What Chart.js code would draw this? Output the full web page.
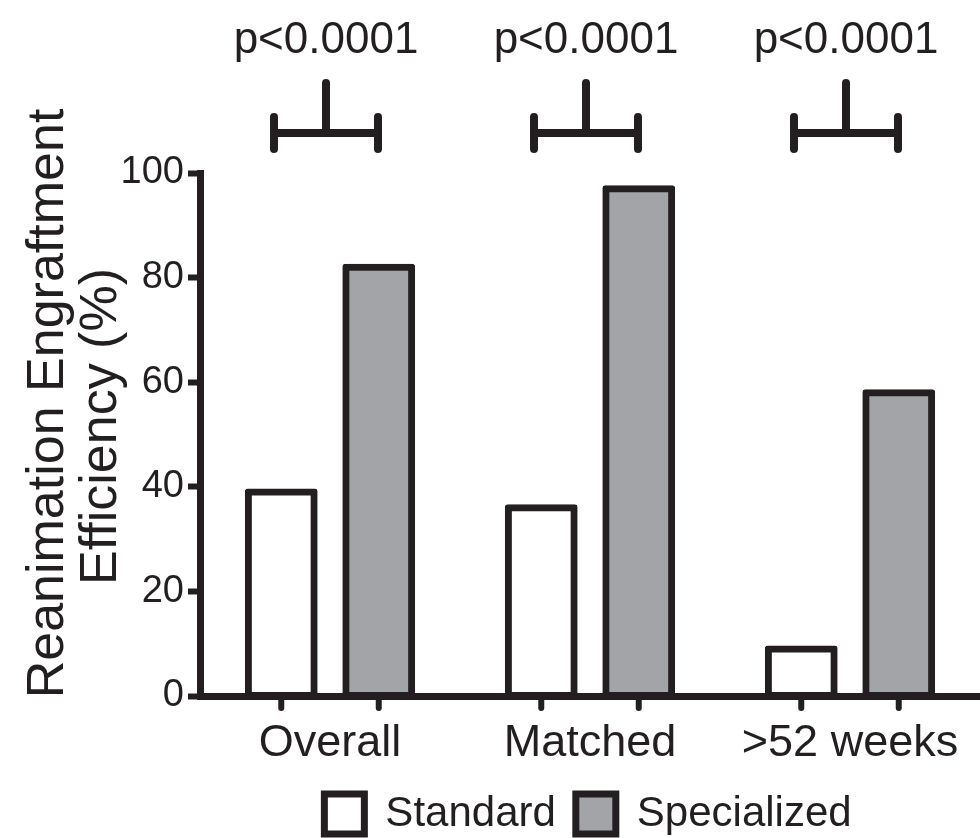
<!DOCTYPE html>
<html>
<head>
<meta charset="utf-8">
<script src="https://cdn.jsdelivr.net/npm/chart.js@4.4.1/dist/chart.umd.min.js"></script>
<style>
  html, body { margin: 0; padding: 0; background: #fff; }
  #wrap { width: 980px; height: 838px; }
</style>
</head>
<body>
<div id="wrap"><canvas id="chart"></canvas></div>
<script>
const categories = ['Overall', 'Matched', '>52 weeks'];
const standardValues = [39, 36, 9];
const specializedValues = [82, 97, 58];
const pLabels = ['p<0.0001', 'p<0.0001', 'p<0.0001'];
const yTicks = [0, 20, 40, 60, 80, 100];
const yTitle = ['Reanimation Engraftment', 'Efficiency (%)'];

const ink = '#231f20';
const grey = '#a2a4a7';
const fontFamily = '"Liberation Sans", Arial, Helvetica, sans-serif';

// y title, bar-centre ticks on the x axis and the significance brackets above
const extras = {
    id: 'extras',
    afterLayout(chart) {
        // legend sits centred under the plot area, not the whole canvas
        const lg = chart.legend;
        lg.left += 98; lg.right += 98;
        lg.top += 7; lg.bottom += 7;
    },
    afterDraw(chart) {
        const ctx = chart.ctx;
        const area = chart.chartArea;
        const xScale = chart.scales.x;
        const midY = (area.top + area.bottom) / 2;
        ctx.save();
        ctx.strokeStyle = ink;
        ctx.fillStyle = ink;
        ctx.lineCap = 'round';

        // two-line rotated axis title
        ctx.font = '52px ' + fontFamily;
        ctx.textAlign = 'center';
        ctx.textBaseline = 'alphabetic';
        [[63, midY - 31], [116, midY - 8]].forEach(([bx, cy], i) => {
            ctx.save();
            ctx.translate(bx, cy);
            ctx.rotate(-Math.PI / 2);
            ctx.fillText(yTitle[i], 0, 0);
            ctx.restore();
        });

        ctx.lineWidth = 6;
        chart.data.datasets.forEach((ds, di) => {
            chart.getDatasetMeta(di).data.forEach(bar => {
                ctx.beginPath();
                ctx.moveTo(bar.x, area.bottom);
                ctx.lineTo(bar.x, area.bottom + 12);
                ctx.stroke();
            });
        });

        ctx.lineWidth = 8;
        ctx.font = '44px ' + fontFamily;
        categories.forEach((c, i) => {
            const cx = xScale.getPixelForValue(i);
            const left = cx - 56;
            const right = cx + 48;
            const mid = (left + right) / 2;
            const yBar = area.top - 40;
            ctx.beginPath();
            ctx.moveTo(left, yBar);
            ctx.lineTo(right, yBar);
            ctx.moveTo(left, yBar - 16);
            ctx.lineTo(left, yBar + 16);
            ctx.moveTo(right, yBar - 16);
            ctx.lineTo(right, yBar + 16);
            ctx.moveTo(mid, yBar);
            ctx.lineTo(mid, yBar - 50);
            ctx.stroke();
            ctx.fillText(pLabels[i], mid, area.top - 120);
        });
        ctx.restore();
    }
};

new Chart(document.getElementById('chart'), {
    type: 'bar',
    data: {
        labels: categories,
        datasets: [
            {
                label: 'Standard',
                data: standardValues,
                backgroundColor: '#ffffff',
                borderColor: ink,
                borderWidth: 7,
                borderSkipped: false,
                borderRadius: 3,
                inflateAmount: 3.5
            },
            {
                label: 'Specialized',
                data: specializedValues,
                backgroundColor: grey,
                borderColor: ink,
                borderWidth: 7,
                borderSkipped: false,
                borderRadius: 3,
                inflateAmount: 3.5
            }
        ]
    },
    options: {
        responsive: true,
        maintainAspectRatio: false,
        animation: false,
        categoryPercentage: 0.75,
        barPercentage: 0.675,
        layout: { padding: { top: 173, right: 0, left: 0, bottom: 0 } },
        plugins: {
            legend: {
                position: 'bottom',
                labels: {
                    color: ink,
                    font: { family: fontFamily, size: 42 },
                    boxWidth: 40,
                    boxHeight: 40,
                    padding: 20
                }
            },
            tooltip: { enabled: false }
        },
        scales: {
            x: {
                z: 1,
                grid: { display: false, tickLength: 12 },
                border: { display: true, color: ink, width: 7 },
                ticks: {
                    color: ink,
                    font: { family: fontFamily, size: 45 },
                    padding: 9,
                    maxRotation: 0
                },
                afterFit: s => { s.height = 70; }
            },
            y: {
                min: 0,
                max: 100,
                afterBuildTicks: s => { s.ticks = yTicks.map(v => ({ value: v })); },
                grid: {
                    drawOnChartArea: false,
                    drawTicks: true,
                    tickLength: 12,
                    tickWidth: 6,
                    tickColor: ink
                },
                border: { display: true, color: ink, width: 7 },
                ticks: {
                    color: ink,
                    font: { family: fontFamily, size: 38 },
                    padding: 4
                },
                afterFit: s => { s.width = 200; }
            }
        }
    },
    plugins: [extras]
});
</script>
</body>
</html>
